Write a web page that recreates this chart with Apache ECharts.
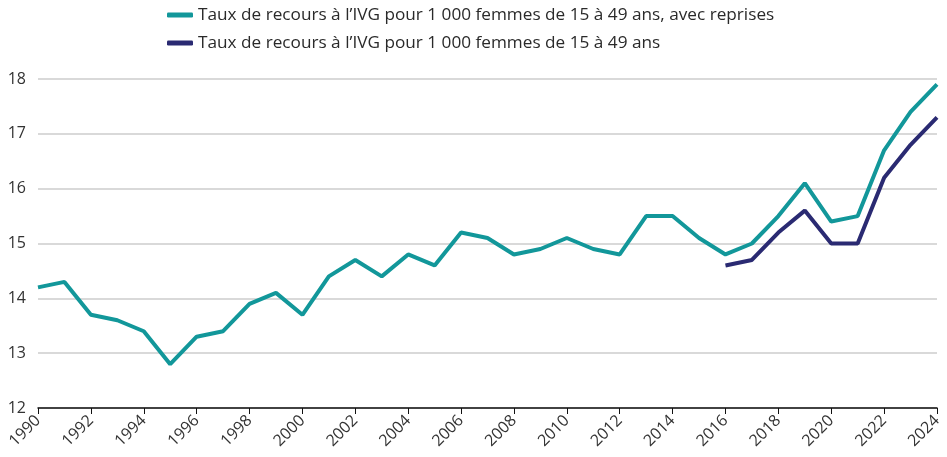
<!DOCTYPE html>
<html>
<head>
<meta charset="utf-8">
<script src="https://cdn.jsdelivr.net/npm/echarts@6/dist/echarts.min.js"></script>
<style>
  html, body { margin: 0; padding: 0; background: #fff; }
  #chart { width: 947px; height: 457px; }
</style>
</head>
<body>
<div id="chart"></div>
<script>
  // années
  const years = [];
  for (let y = 1990; y <= 2024; y++) years.push(String(y));

  // taux avec reprises
  const tauxReprises = [14.2, 14.3, 13.7, 13.6, 13.4, 12.8, 13.3, 13.4, 13.9, 14.1,
    13.7, 14.4, 14.7, 14.4, 14.8, 14.6, 15.2, 15.1, 14.8, 14.9,
    15.1, 14.9, 14.8, 15.5, 15.5, 15.1, 14.8, 15.0, 15.5, 16.1,
    15.4, 15.5, 16.7, 17.4, 17.9];

  // taux sans reprises (à partir de 2016)
  const taux = [null, null, null, null, null, null, null, null, null, null,
    null, null, null, null, null, null, null, null, null, null,
    null, null, null, null, null, null, 14.6, 14.7, 15.2, 15.6,
    15.0, 15.0, 16.2, 16.8, 17.3];

  const nameA = 'Taux de recours à l’IVG pour 1 000 femmes de 15 à 49 ans, avec reprises';
  const nameB = 'Taux de recours à l’IVG pour 1 000 femmes de 15 à 49 ans';

  const chart = echarts.init(document.getElementById('chart'));
  chart.setOption({
    animation: false,
    textStyle: { fontFamily: 'Open Sans' },
    color: ['#12979a', '#2a2a72'],
    legend: {
      orient: 'vertical',
      left: 162,
      top: -1,
      itemWidth: 26,
      itemHeight: 5,
      itemGap: 6,
      icon: 'roundRect',
      textStyle: { fontSize: 17.2, color: '#2a2a2a', lineHeight: 22 },
      data: [nameA, nameB]
    },
    grid: { left: 38, right: 10, top: 79, bottom: 49 },
    xAxis: {
      type: 'category',
      data: years,
      boundaryGap: false,
      axisLine: { lineStyle: { color: '#111', width: 1.5 } },
      axisTick: { interval: 1, length: 6, lineStyle: { color: '#111' } },
      axisLabel: { interval: 1, rotate: 45, fontSize: 16, color: '#333', margin: 10 },
      splitLine: { show: false }
    },
    yAxis: {
      type: 'value',
      min: 12,
      max: 18,
      interval: 1,
      axisLine: { show: false },
      axisTick: { show: false },
      axisLabel: { fontSize: 16, color: '#333', margin: 12 },
      splitLine: { lineStyle: { color: '#cccccc', width: 1.5 } }
    },
    series: [
      {
        name: nameA,
        type: 'line',
        data: tauxReprises,
        symbol: 'none',
        lineStyle: { width: 4 }
      },
      {
        name: nameB,
        type: 'line',
        data: taux,
        symbol: 'none',
        lineStyle: { width: 4 }
      }
    ]
  });
</script>
</body>
</html>
